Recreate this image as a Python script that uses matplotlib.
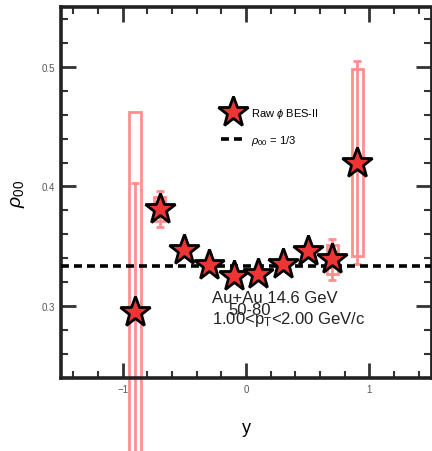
import numpy as np
import matplotlib.pyplot as plt
from matplotlib.ticker import MultipleLocator

plt.rcParams['font.family'] = ['Liberation Sans', 'DejaVu Sans']
plt.rcParams['mathtext.fontset'] = 'custom'
plt.rcParams['mathtext.rm'] = 'Liberation Sans'
plt.rcParams['mathtext.it'] = 'Liberation Sans:italic'

# rho00 vs rapidity, raw phi, Au+Au 14.6 GeV, 50-80%
y_bins = [-0.9, -0.7, -0.5, -0.3, -0.1, 0.1, 0.3, 0.5, 0.7, 0.9]
rho00 = [0.295, 0.381, 0.347, 0.334, 0.325, 0.327, 0.335, 0.346, 0.339, 0.420]
stat_lo = [0.160, 0.015, 0.004, 0.004, 0.004, 0.004, 0.004, 0.004, 0.017, 0.085]
stat_hi = [0.108, 0.015, 0.004, 0.004, 0.004, 0.004, 0.004, 0.004, 0.017, 0.085]
sys_err = [0.167, 0.010, 0.003, 0.003, 0.003, 0.003, 0.003, 0.003, 0.012, 0.078]

pink = '#ff8f8f'
red = '#ee3535'

fig = plt.figure(figsize=(4.32, 4.52), dpi=100)
ax = fig.add_axes([0.141, 0.1615, 0.857, 0.821])

x = np.array(y_bins)
yv = np.array(rho00)
sys = np.array(sys_err)

# systematic boxes
bars = ax.bar(x, 2 * sys, bottom=yv - sys, width=0.09, fill=False,
              edgecolor=pink, linewidth=2, zorder=2)
for b in bars:
    b.set_clip_on(False)

# statistical errors
eb = ax.errorbar(x, yv, yerr=[stat_lo, stat_hi], fmt='none', ecolor=pink,
                 elinewidth=2, capsize=3, capthick=2, zorder=2)
for art in eb.lines[1] + eb.lines[2]:
    art.set_clip_on(False)

ax.axhline(1 / 3, color='black', linestyle=(0, (2.2, 1.4)), linewidth=2.6,
           zorder=3, label=r'$\rho_{00}$ = 1/3')

ax.plot(x, yv, linestyle='none', marker='*', markersize=23,
        markerfacecolor=red, markeredgecolor='black', markeredgewidth=2,
        zorder=4, label=r'Raw $\phi$ BES-II')

ax.set_xlim(-1.5, 1.5)
ax.set_ylim(0.24, 0.55)

ax.xaxis.set_major_locator(MultipleLocator(1))
ax.xaxis.set_minor_locator(MultipleLocator(0.2))
ax.yaxis.set_major_locator(MultipleLocator(0.1))
ax.yaxis.set_minor_locator(MultipleLocator(0.02))
ax.xaxis.set_major_formatter(plt.FuncFormatter(lambda v, p: f'{v:g}'.replace('-', '\u2212')))
ax.yaxis.set_major_formatter(plt.FuncFormatter(lambda v, p: f'{v:.1f}'))

ax.tick_params(which='both', direction='in', top=True, right=True,
               labelsize=7, labelcolor='#555555', colors='#333333')
ax.tick_params(which='major', length=11, width=2, pad=4)
ax.tick_params(which='minor', length=5, width=1.5)
for side in ['left', 'bottom', 'top']:
    ax.spines[side].set_linewidth(2.6)
ax.spines['right'].set_linewidth(2)
for s in ax.spines.values():
    s.set_color('#222222')

ax.set_ylabel(r'$\rho_{00}$', fontsize=14, labelpad=11)
ax.set_xlabel('y', fontsize=13, labelpad=18)

ax.legend(loc='upper left', bbox_to_anchor=(0.405, 0.76), frameon=False,
          fontsize=8, handlelength=2.2, handletextpad=0.5, labelspacing=1.15,
          reverse=True)

ax.text(0.407, 0.205, 'Au+Au 14.6 GeV', transform=ax.transAxes,
        fontsize=12, color='#222222')
ax.text(0.511, 0.172, '50-80', transform=ax.transAxes, ha='center',
        fontsize=12, color='#222222')
ax.text(0.407, 0.148, r'1.00<p$_{\mathregular{T}}$<2.00 GeV/c',
        transform=ax.transAxes, fontsize=12, color='#222222')

fig.savefig('out.png', dpi=100)
